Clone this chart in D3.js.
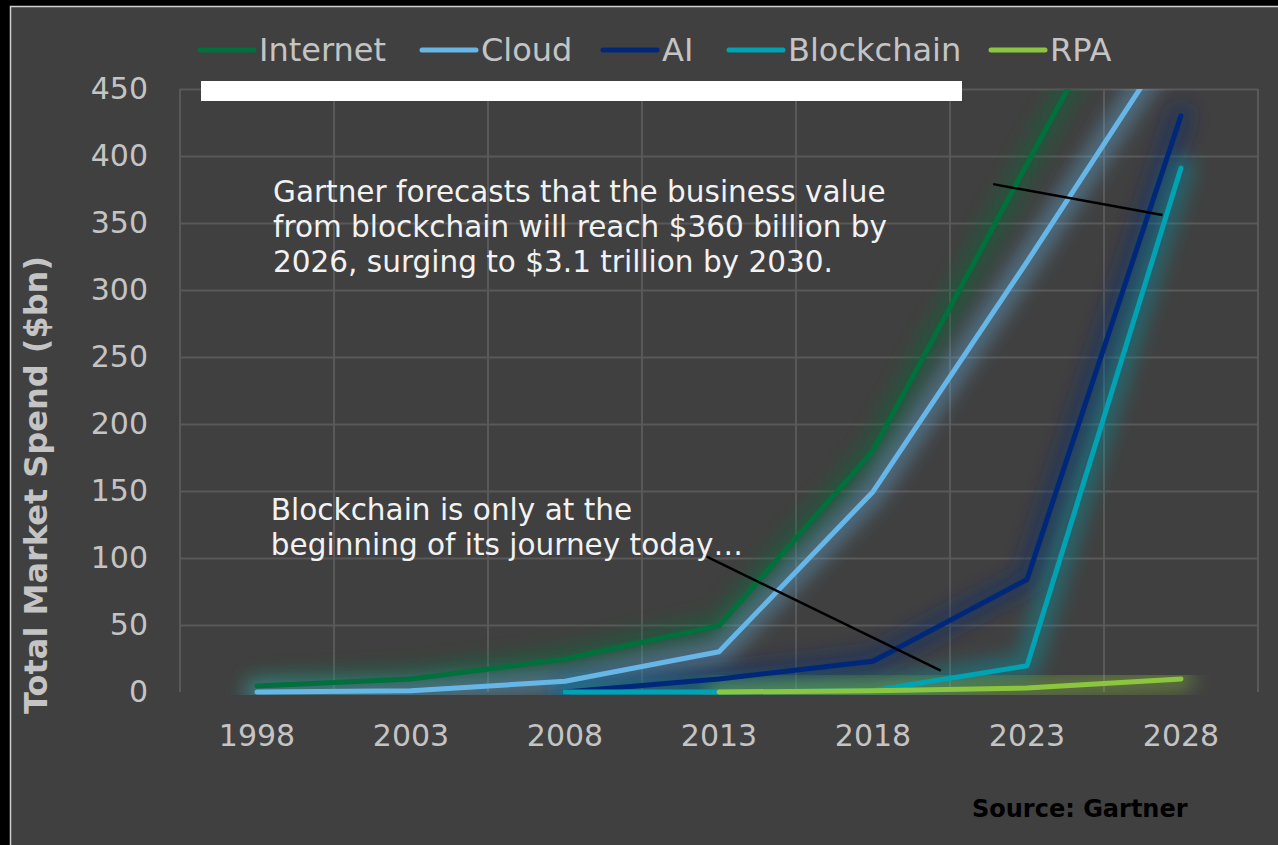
<!DOCTYPE html>
<html>
<head>
<meta charset="utf-8">
<script src="https://cdn.jsdelivr.net/npm/d3@7"></script>
<style>
  html, body { margin: 0; padding: 0; background: #000; }
  svg { display: block; font-family: "DejaVu Sans", Verdana, sans-serif; }
</style>
</head>
<body>
<div id="chart"></div>
<script>
// Data
const years = ['1998', '2003', '2008', '2013', '2018', '2023', '2028'];
const internet   = [4.5, 9.7, 24.6, 49.5, 180, 394, 606];
const cloud      = [0, 1, 8, 30, 149.5, 321, 497];
const ai         = [null, null, 0, 9.7, 23, 84, 430];
const blockchain = [null, null, 0, 0, 1, 19.6, 391];
const rpa        = [null, null, null, 0, 1, 3, 9.7];
const seriesNames  = ['Internet', 'Cloud', 'AI', 'Blockchain', 'RPA'];
const seriesColors = ['#00703c', '#66b6e8', '#00287a', '#00a3b4', '#8cc63f'];
const yTicks = [0, 50, 100, 150, 200, 250, 300, 350, 400, 450];

const W = 1278, H = 845;
const margin = { top: 89, right: 20, bottom: 153, left: 180 };

const series = [internet, cloud, ai, blockchain, rpa].map((vals, i) => ({
  name: seriesNames[i],
  color: seriesColors[i],
  values: vals.map((v, j) => ({ year: years[j], value: v }))
}));

const svg = d3.select('#chart').append('svg')
  .attr('width', W)
  .attr('height', H);

// background with thin frame on the top / left edge
svg.append('rect')
  .attr('x', 10.5).attr('y', 6.5)
  .attr('width', W + 20).attr('height', H + 20)
  .attr('fill', '#404040')
  .attr('stroke', '#d0d0d0')
  .attr('stroke-width', 1.5);

const x = d3.scaleBand()
  .domain(years)
  .range([margin.left, W - margin.right])
  .padding(0);
const bw = x.bandwidth();
const cx = d => x(d) + bw / 2;

const y = d3.scaleLinear()
  .domain([0, 450])
  .range([H - margin.bottom, margin.top]);

// year scale used only to place annotations
const xYear = d3.scaleLinear()
  .domain([+years[0], +years[years.length - 1]])
  .range([cx(years[0]), cx(years[years.length - 1])]);

const defs = svg.append('defs');
defs.append('clipPath').attr('id', 'plotclip')
  .append('rect')
  .attr('x', margin.left).attr('y', margin.top)
  .attr('width', W - margin.right - margin.left)
  .attr('height', y(0) - margin.top + 3);
defs.append('filter').attr('id', 'glow')
  .attr('x', '-30%').attr('y', '-30%').attr('width', '160%').attr('height', '160%')
  .append('feGaussianBlur').attr('stdDeviation', 9);

// y axis with horizontal gridlines
const yAxis = d3.axisLeft(y)
  .tickValues(yTicks)
  .tickSize(-(W - margin.right - margin.left))
  .tickPadding(32);

const gy = svg.append('g')
  .attr('class', 'y-axis')
  .attr('transform', `translate(${margin.left},0)`)
  .call(yAxis);
gy.select('.domain').remove();
gy.selectAll('.tick line')
  .attr('stroke', '#595959')
  .attr('stroke-width', 2)
  .attr('stroke-opacity', d => d === 0 ? 0 : 1);
gy.selectAll('.tick text')
  .attr('fill', '#c4c4c4')
  .attr('font-size', 30)
  .attr('font-family', '"DejaVu Sans", Verdana, sans-serif');

// vertical gridlines at category boundaries
const vBounds = years.map(d => x(d)).concat([x(years[years.length - 1]) + bw]);
svg.append('g')
  .selectAll('line')
  .data(vBounds)
  .join('line')
  .attr('x1', d => d).attr('x2', d => d)
  .attr('y1', margin.top).attr('y2', y(0))
  .attr('stroke', '#595959')
  .attr('stroke-width', 2);

// x axis
const xAxis = d3.axisBottom(x).tickSize(0).tickPadding(33);
const gx = svg.append('g')
  .attr('class', 'x-axis')
  .attr('transform', `translate(0,${y(0)})`)
  .call(xAxis);
gx.select('.domain').remove();
gx.selectAll('.tick text')
  .attr('fill', '#c4c4c4')
  .attr('font-size', 30)
  .attr('font-family', '"DejaVu Sans", Verdana, sans-serif');

// lines
const line = d3.line()
  .defined(d => d.value !== null)
  .x(d => cx(d.year))
  .y(d => y(d.value));

const plot = svg.append('g').attr('clip-path', 'url(#plotclip)');

plot.selectAll('.glow')
  .data(series)
  .join('path')
  .attr('class', 'glow')
  .attr('d', d => line(d.values))
  .attr('fill', 'none')
  .attr('stroke', d => d.color)
  .attr('stroke-width', 26)
  .attr('stroke-opacity', 0.38)
  .attr('stroke-linejoin', 'round')
  .attr('stroke-linecap', 'round')
  .attr('filter', 'url(#glow)');

plot.selectAll('.series')
  .data(series)
  .join('path')
  .attr('class', 'series')
  .attr('d', d => line(d.values))
  .attr('fill', 'none')
  .attr('stroke', d => d.color)
  .attr('stroke-width', 5)
  .attr('stroke-linejoin', 'round')
  .attr('stroke-linecap', 'round');

// annotations
const notes = [
  { lines: ['Gartner forecasts that the business value',
            'from blockchain will reach $360 billion by',
            '2026, surging to $3.1 trillion by 2030.'],
    tx: 1998.52, ty: 365.5, from: [2021.9, 379], to: [2027.4, 356] },
  { lines: ['Blockchain is only at the',
            'beginning of its journey today\u2026'],
    tx: 1998.45, ty: 128, from: [2012.6, 101], to: [2020.2, 16] }
];

notes.forEach(n => {
  svg.append('line')
    .attr('x1', xYear(n.from[0])).attr('y1', y(n.from[1]))
    .attr('x2', xYear(n.to[0])).attr('y2', y(n.to[1]))
    .attr('stroke', '#000')
    .attr('stroke-width', 2.5);
  svg.append('text')
    .attr('x', xYear(n.tx))
    .attr('y', y(n.ty))
    .attr('fill', '#f2f2f2')
    .attr('font-size', 29.5)
    .selectAll('tspan')
    .data(n.lines)
    .join('tspan')
    .attr('x', xYear(n.tx))
    .attr('dy', (d, i) => i === 0 ? 0 : 35)
    .text(d => d);
});

// white bar under the legend
svg.append('rect')
  .attr('x', 201).attr('y', 81)
  .attr('width', 761).attr('height', 20)
  .attr('fill', '#fff');

// legend
const legendX = [199, 421, 602, 728, 990];
const legend = svg.append('g').attr('transform', 'translate(0,50)');
series.forEach((s, i) => {
  const g = legend.append('g').attr('transform', `translate(${legendX[i]},0)`);
  g.append('line')
    .attr('x1', 1).attr('x2', 55)
    .attr('stroke', s.color)
    .attr('stroke-width', 5)
    .attr('stroke-linecap', 'round');
  g.append('text')
    .attr('x', 60).attr('y', 11)
    .attr('fill', '#c4c4c4')
    .attr('font-size', 32)
    .text(s.name);
});

// y axis title
svg.append('text')
  .attr('transform', 'translate(47,485) rotate(-90)')
  .attr('text-anchor', 'middle')
  .attr('fill', '#c4c4c4')
  .attr('font-size', 32)
  .attr('font-weight', 'bold')
  .text('Total Market Spend ($bn)');

// source
svg.append('text')
  .attr('x', 972).attr('y', 817)
  .attr('fill', '#000')
  .attr('font-size', 24)
  .attr('font-weight', 'bold')
  .text('Source: Gartner');
</script>
</body>
</html>
